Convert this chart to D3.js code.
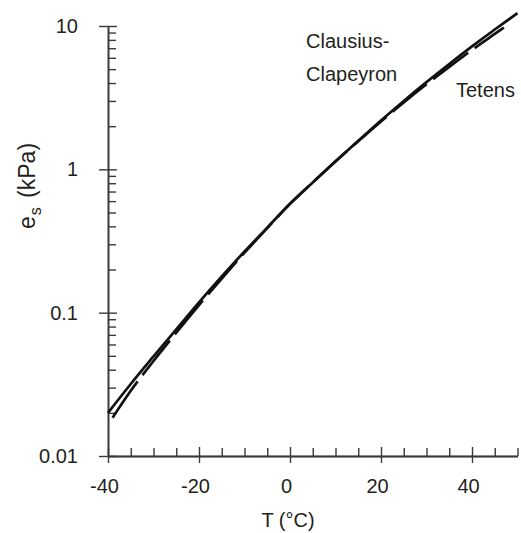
<!DOCTYPE html>
<html>
<head>
<meta charset="utf-8">
<script src="https://cdn.jsdelivr.net/npm/d3@7"></script>
<style>
  body { margin: 0; background: #fff; }
  text { font-family: "Liberation Sans", Arial, sans-serif; fill: #231f20; }
</style>
</head>
<body>
<div class="canvas"></div>
<script>
// saturation vapour pressure (kPa)
let ccTemp = [-40, -35, -30, -25, -20, -15, -10, -5, 0, 5, 10, 15, 20, 25, 30, 35, 40, 45, 50]
let ccKPa = [0.020, 0.0318, 0.0495, 0.0765, 0.118, 0.179, 0.267, 0.392, 0.575, 0.81, 1.14, 1.58, 2.19, 3.00, 4.06, 5.43, 7.20, 9.45, 12.3]

let tetensTemp = [-39, -35, -30, -25, -20, -15, -10, -5, 0, 5, 10, 15, 20, 25, 30, 35, 40, 45, 47]
let tetensKPa = [0.0185, 0.0285, 0.046, 0.0725, 0.113, 0.173, 0.262, 0.389, 0.574, 0.81, 1.135, 1.57, 2.16, 2.93, 3.92, 5.18, 6.80, 8.80, 9.75]

let xMajor = [-40, -20, 0, 20, 40]
let xMinor = [-35, -30, -25, -15, -10, -5, 5, 10, 15, 25, 30, 35, 45, 50]
let yMajor = [0.01, 0.1, 1, 10]
let yLabels = ['0.01', '0.1', '1', '10']
let yMinor = []
;[0.01, 0.1, 1].forEach(d => {
    for (let k = 2; k <= 9; k++) yMinor.push(+(d * k).toPrecision(2))
})

let width = 521,
    height = 533,
    axisColor = '#3a3a3a'

let svg = d3.select('.canvas').append('svg')
    .attr('width', width)
    .attr('height', height)

let x = d3.scaleLinear().domain([-40, 50]).range([108, 517.5])
let y = d3.scaleLog().domain([0.01, 10]).range([456, 26])

///////////////////////
// AXES
///////////////////////

// x: majors cross the line, minors point up
let gx = svg.append('g').attr('transform', `translate(0, ${y(0.01)})`)
gx.append('g')
    .call(d3.axisBottom(x).tickValues(xMajor).tickSize(7).tickSizeOuter(0).tickPadding(16)
        .tickFormat(d => String(d)))
gx.append('g')
    .call(d3.axisTop(x).tickValues(xMajor).tickSize(9).tickSizeOuter(0).tickFormat(''))
gx.append('g')
    .call(d3.axisTop(x).tickValues(xMinor).tickSize(8).tickSizeOuter(0).tickFormat(''))

// y: majors cross the line, minors point right
let gy = svg.append('g').attr('transform', `translate(${x(-40)}, 0)`)
gy.append('g')
    .call(d3.axisLeft(y).tickValues(yMajor).tickSize(9).tickSizeOuter(0).tickPadding(21)
        .tickFormat((d, i) => yLabels[i]))
gy.append('g')
    .call(d3.axisRight(y).tickValues(yMajor).tickSize(9).tickSizeOuter(0).tickFormat(''))
gy.append('g')
    .call(d3.axisRight(y).tickValues(yMinor).tickSize(8).tickSizeOuter(0).tickFormat(''))

svg.selectAll('.domain, .tick line')
    .attr('stroke', axisColor)
    .attr('stroke-width', 1.4)
svg.selectAll('.tick text')
    .attr('font-size', 20)
    .attr('font-family', '"Liberation Sans", Arial, sans-serif')
    .attr('fill', '#231f20')
gx.selectAll('.tick text').attr('dx', -4)

// axis titles
svg.append('text')
    .attr('x', 288)
    .attr('y', 527)
    .attr('text-anchor', 'middle')
    .attr('font-size', 20)
    .text('T (°C)')

let yTitle = svg.append('text')
    .attr('transform', 'translate(35, 186) rotate(-90)')
    .attr('text-anchor', 'middle')
    .attr('font-size', 23)
yTitle.append('tspan').text('e')
yTitle.append('tspan').attr('font-size', 16).attr('dy', 6).attr('dx', 1).text('s')
yTitle.append('tspan').attr('dy', -6).attr('dx', 3).text(' (kPa)')

///////////////////////
// CURVES
///////////////////////

let line = d3.line()
    .x(d => x(d[0]))
    .y(d => y(d[1]))
    .curve(d3.curveMonotoneX)

svg.append('path')
    .datum(tetensTemp.map((t, i) => [t, tetensKPa[i]]))
    .attr('d', line)
    .attr('fill', 'none')
    .attr('stroke', '#111')
    .attr('stroke-width', 2.7)
    .attr('stroke-dasharray', '44,8')

svg.append('path')
    .datum(ccTemp.map((t, i) => [t, ccKPa[i]]))
    .attr('d', line)
    .attr('fill', 'none')
    .attr('stroke', '#111')
    .attr('stroke-width', 2.7)

// curve labels
svg.append('text').attr('x', 306).attr('y', 48).attr('font-size', 20).text('Clausius-')
svg.append('text').attr('x', 306).attr('y', 81).attr('font-size', 20).text('Clapeyron')
svg.append('text').attr('x', 456).attr('y', 97).attr('font-size', 20).text('Tetens')
</script>
</body>
</html>
